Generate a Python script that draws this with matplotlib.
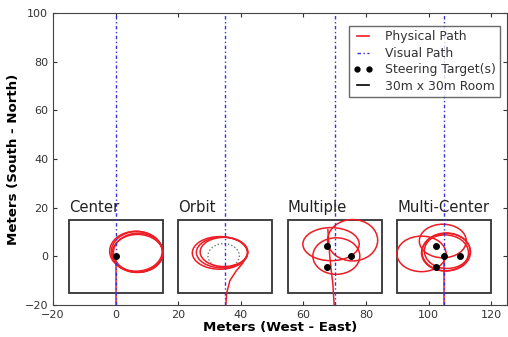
"""Steering-path comparison: four 30 m x 30 m rooms, the physical walking
path (red loops) against the straight visual path (blue dash-dot)."""

import matplotlib
matplotlib.use("Agg")
import matplotlib.pyplot as plt
from matplotlib.lines import Line2D
from matplotlib.patches import Circle, Ellipse, Rectangle


ROOM_NAMES = ["Center", "Orbit", "Multiple", "Multi-Center"]
ROOM_CENTERS = [0, 35, 70, 105]
ROOM_SIZE = 30

# steering targets (m)
TARGET_X = [0, 67.5, 75.2, 67.5, 102.3, 105, 110, 102.3]
TARGET_Y = [0, 4.3, 0, -4.2, 4.3, 0, 0, -4.2]

# orbit target circle: centre x, centre y, radius
ORBIT_CIRCLE = (34.5, 0.2, 5.0)

# physical path loops per room: centre x, centre y, width, height (m)
LOOPS_CENTER = [
    (6.8, 1.8, 16.4, 16.8),
    (7.2, 1.5, 15.8, 16.0),
    (6.5, 2.1, 16.8, 16.4),
    (7.0, 1.2, 16.2, 15.6),
]
LOOPS_ORBIT = [
    (33.3, 1.4, 17.6, 13.4),
    (34.0, 1.6, 16.4, 12.6),
    (34.6, 1.8, 15.2, 12.0),
]
LOOPS_MULTIPLE = [
    (68.8, 5.0, 18.0, 13.6),
    (75.7, 6.6, 16.0, 17.0),
    (70.5, 0.1, 15.0, 15.0),
]
LOOPS_MULTI_CENTER = [
    (97.7, 1.0, 15.7, 14.6),
    (104.5, 6.3, 15.0, 13.8),
    (105.6, 1.8, 15.5, 15.6),
    (105.2, 1.4, 15.0, 14.8),
    (105.9, 2.2, 14.6, 14.4),
]

# straight entry legs walked in from the south wall
ENTRY_CENTER = ([0, 0], [-20, 0])
ENTRY_ORBIT = ([35.2, 35.5, 36.5, 38.5, 40.5, 41.8], [-20, -15, -10, -6, -3, 0])
ENTRY_MULTIPLE = ([69.8, 69.4, 68.8, 68.4, 67.8], [-20, -11.5, -5, 0, 11])
ENTRY_MULTI_CENTER = ([105, 105], [-20, 0])

X_TICKS = [-20, 0, 20, 40, 60, 80, 100, 120]
Y_TICKS = [-20, 0, 20, 40, 60, 80, 100]

RED = "#ee1c24"
BLUE = "#3535d8"
VISUAL_DASH = (0, (2.5, 1.8, 1.0, 1.8))


def main():
    fig = plt.figure(figsize=(5.08, 3.37), dpi=100)
    ax = fig.add_axes([0.1043, 0.095, 0.8937, 0.8665])

    for cx in ROOM_CENTERS:
        ax.axvline(cx, color=BLUE, linestyle=VISUAL_DASH, linewidth=1.0,
                   zorder=3)

    half = ROOM_SIZE / 2
    for name, cx in zip(ROOM_NAMES, ROOM_CENTERS):
        ax.add_patch(Rectangle((cx - half, -half), ROOM_SIZE, ROOM_SIZE,
                               fill=False, edgecolor="#333333", linewidth=1.3))
        ax.text(cx - half, half + 1.8, name, fontsize=10.7, color="#222222",
                ha="left", va="bottom")

    ox, oy, r = ORBIT_CIRCLE
    ax.add_patch(Circle((ox, oy), r, fill=False, edgecolor="#777777",
                        linestyle=(0, (1, 1.5)), linewidth=1.0))

    for loops in (LOOPS_CENTER, LOOPS_ORBIT, LOOPS_MULTIPLE, LOOPS_MULTI_CENTER):
        for cx, cy, w, h in loops:
            ax.add_patch(Ellipse((cx, cy), w, h, fill=False, edgecolor=RED,
                                 linewidth=1.1, zorder=2))

    for xs, ys in (ENTRY_CENTER, ENTRY_ORBIT, ENTRY_MULTIPLE, ENTRY_MULTI_CENTER):
        ax.plot(xs, ys, color=RED, linewidth=1.1, zorder=2)

    ax.plot(TARGET_X, TARGET_Y, "o", color="k", markersize=4, zorder=4)

    ax.set_xlim(-20, 125)
    ax.set_ylim(-20, 100)
    ax.set_xticks(X_TICKS)
    ax.set_yticks(Y_TICKS)
    ax.tick_params(direction="in", top=True, right=True, labelsize=8,
                   colors="#333333", length=3)
    for side in ax.spines.values():
        side.set_edgecolor("#444444")

    ax.set_xlabel("Meters (West - East)", fontsize=9.6, fontweight="bold",
                  labelpad=1)
    ax.set_ylabel("Meters (South - North)", fontsize=9.6, fontweight="bold",
                  labelpad=3)

    handles = [
        Line2D([], [], color=RED, linewidth=1.2),
        Line2D([], [], color=BLUE, linestyle=VISUAL_DASH, linewidth=1.0),
        Line2D([], [], color="k", marker="o", markersize=3.5, linestyle="none"),
        Line2D([], [], color="k", linewidth=1.2),
    ]
    labels = ["Physical Path", "Visual Path", "Steering Target(s)",
              "30m x 30m Room"]
    leg = ax.legend(handles, labels, loc="upper right", fontsize=8.9,
                    numpoints=2, handlelength=1.6, fancybox=False,
                    bbox_to_anchor=(0.985, 0.955), borderaxespad=0,
                    labelspacing=0.28, handletextpad=1.0, borderpad=0.35)
    leg.get_frame().set_edgecolor("#444444")
    for t in leg.get_texts():
        t.set_color("#333333")

    fig.savefig("out.png", dpi=100)


if __name__ == "__main__":
    main()
